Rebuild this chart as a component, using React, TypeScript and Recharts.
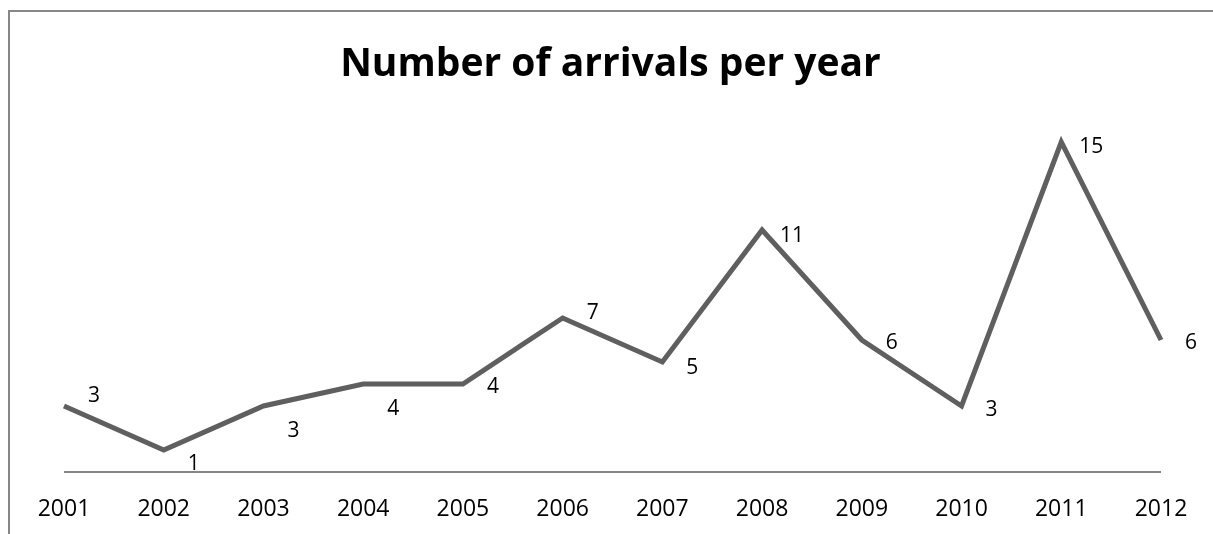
import React from 'react';
import { LineChart, Line, XAxis, YAxis, LabelList } from 'recharts';

// values
const years = ['2001', '2002', '2003', '2004', '2005', '2006', '2007', '2008', '2009', '2010', '2011', '2012'];
const arrivals = [3, 1, 3, 4, 4, 7, 5, 11, 6, 3, 15, 6];

// vertical nudge of each data label (the original has them placed by hand)
const labelDy = [-12, 12, 23, 23, 1, -7, 4, 4, 1, 2, 3, 1];

const data = years.map((year, i) => ({ year, arrivals: arrivals[i] }));

const FONT = '"Open Sans", "Noto Sans", sans-serif';

const ValueLabel = (props: any) => {
  const { x, y, value, index } = props;
  return (
    <text
      x={x + 30}
      y={y + (labelDy[index] ?? 0)}
      textAnchor="middle"
      dominantBaseline="central"
      fontFamily={FONT}
      fontSize={21}
      fill="#000"
    >
      {value}
    </text>
  );
};

const App = () => {
  return (
    <div style={{ position: 'relative', width: 1197, height: 518, overflow: 'hidden', background: '#fff' }}>
      {/* chart frame: only top and left edges are visible in the crop */}
      <div
        style={{
          position: 'fixed',
          top: 10,
          left: 8,
          right: 0,
          bottom: 0,
          borderTop: '2px solid #878787',
          borderLeft: '2px solid #878787',
          pointerEvents: 'none',
        }}
      />
      <div
        style={{
          position: 'absolute',
          top: 33,
          left: 0,
          width: 1205,
          textAlign: 'center',
          fontFamily: FONT,
          fontWeight: 700,
          fontSize: 39,
          lineHeight: 1,
          color: '#000',
        }}
      >
        Number of arrivals per year
      </div>
      <div style={{ position: 'absolute', top: 0, left: 0 }}>
        <LineChart width={1197} height={518} data={data} margin={{ top: 112, right: 44, left: 56, bottom: 0 }}>
          <XAxis
            dataKey="year"
            height={54}
            tickLine={false}
            tickSize={0}
            tickMargin={28}
            axisLine={{ stroke: '#868686', strokeWidth: 2 }}
            tick={{ fill: '#000', fontSize: 23, fontFamily: FONT }}
            interval={0}
          />
          <YAxis hide domain={[0, 16]} />
          <Line
            type="linear"
            dataKey="arrivals"
            stroke="#5f5f5f"
            strokeWidth={5}
            dot={false}
            activeDot={false}
            isAnimationActive={false}
          >
            <LabelList dataKey="arrivals" content={<ValueLabel />} />
          </Line>
        </LineChart>
      </div>
    </div>
  );
};

export default App;
